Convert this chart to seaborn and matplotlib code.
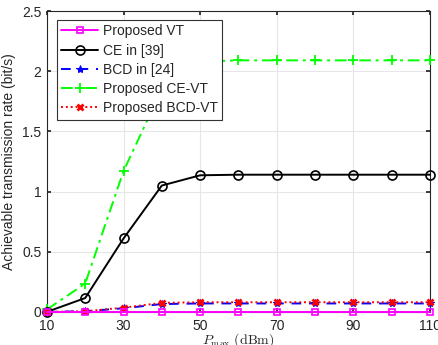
import numpy as np
import pandas as pd
import matplotlib
matplotlib.use("Agg")
import matplotlib.pyplot as plt
import seaborn as sns

p_max = [10, 20, 30, 40, 50, 60, 70, 80, 90, 100, 110]
vt = [0, 0, 0, 0, 0, 0, 0, 0, 0, 0, 0]
ce = [0.0, 0.115, 0.61, 1.05, 1.135, 1.14, 1.14, 1.14, 1.14, 1.14, 1.14]
bcd = [0.0, 0.005, 0.03, 0.065, 0.07, 0.07, 0.07, 0.07, 0.07, 0.07, 0.07]
ce_vt = [0.02, 0.235, 1.17, 1.85, 2.08, 2.09, 2.09, 2.09, 2.09, 2.09, 2.09]
bcd_vt = [0.0, 0.005, 0.035, 0.075, 0.08, 0.08, 0.08, 0.08, 0.08, 0.08, 0.08]
labels = ["Proposed VT", "CE in [39]", "BCD in [24]", "Proposed CE-VT", "Proposed BCD-VT"]

sns.set_theme(style="whitegrid")
plt.rcParams['font.family'] = ['Liberation Sans', 'DejaVu Sans']
plt.rcParams['mathtext.fontset'] = 'cm'

fig, ax = plt.subplots(figsize=(4.38, 3.45), dpi=100)
fig.subplots_adjust(left=0.107, right=0.982, top=0.968, bottom=0.096)

styles = [
    dict(color="#ff00ff", linestyle="-", marker="s", markersize=5, markerfacecolor="none", markeredgewidth=1.2),
    dict(color="black", linestyle="-", marker="o", markersize=6.5, markerfacecolor="none", markeredgewidth=1.2),
    dict(color="blue", linestyle=(0, (5, 4)), marker="*", markersize=6, markerfacecolor="blue"),
    dict(color="#00ff00", linestyle=(0, (6, 2.5, 1.5, 2.5)), marker="+", markersize=7, markeredgewidth=1.3),
    dict(color="red", linestyle=(0, (1, 1.5)), marker="x", markersize=5, markeredgewidth=2.0),
]
series = [vt, ce, bcd, ce_vt, bcd_vt]
order = [3, 1, 2, 4, 0]
lines = {}
for i in order:
    df = pd.DataFrame({"x": p_max, "y": series[i]})
    n0 = len(ax.get_lines())
    sns.lineplot(data=df, x="x", y="y", ax=ax, color=styles[i]["color"], linewidth=1.4)
    ln = ax.get_lines()[n0]
    ln.set_linestyle(styles[i]["linestyle"])
    ln.set_marker(styles[i]["marker"])
    ln.set_markersize(styles[i]["markersize"])
    ln.set_markeredgecolor(styles[i]["color"])
    ln.set_markerfacecolor(styles[i].get("markerfacecolor", styles[i]["color"]))
    if "markeredgewidth" in styles[i]:
        ln.set_markeredgewidth(styles[i]["markeredgewidth"])
    ln.set_clip_on(False)
    ln.set_zorder(3)
    lines[labels[i]] = ln

leg = ax.legend([lines[k] for k in labels], labels, loc="upper left", bbox_to_anchor=(0.026, 0.97),
                frameon=True, fancybox=False, fontsize=10, handlelength=2.7, handletextpad=0.3,
                borderpad=0.3, labelspacing=0.38, borderaxespad=0, numpoints=1)
leg.get_frame().set_edgecolor("#333333")
leg.get_frame().set_linewidth(0.8)
leg.get_frame().set_alpha(1)

ax.set_xlim(10, 110)
ax.set_ylim(0, 2.5)
ax.set_xticks([10, 30, 50, 70, 90, 110])
ax.set_yticks([0, 0.5, 1, 1.5, 2, 2.5])
ax.set_yticklabels(["0", "0.5", "1", "1.5", "2", "2.5"])
ax.set_xlabel(r"$P_{\max}\ (\mathrm{dBm})$", fontsize=10, labelpad=-1.5)
ax.set_ylabel("Achievable transmission rate (bit/s)", fontsize=10, labelpad=4)
ax.tick_params(axis="both", labelsize=10, colors="#262626", direction="in", length=3,
               left=True, bottom=True, top=True, right=True)
ax.tick_params(axis="x", pad=5)
ax.tick_params(axis="y", pad=4)
ax.grid(True, color="#e6e6e6", linewidth=0.8)
for s in ax.spines.values():
    s.set_color("#262626")
    s.set_linewidth(0.8)
ax.set_facecolor("white")
fig.savefig("out.png", dpi=100)
